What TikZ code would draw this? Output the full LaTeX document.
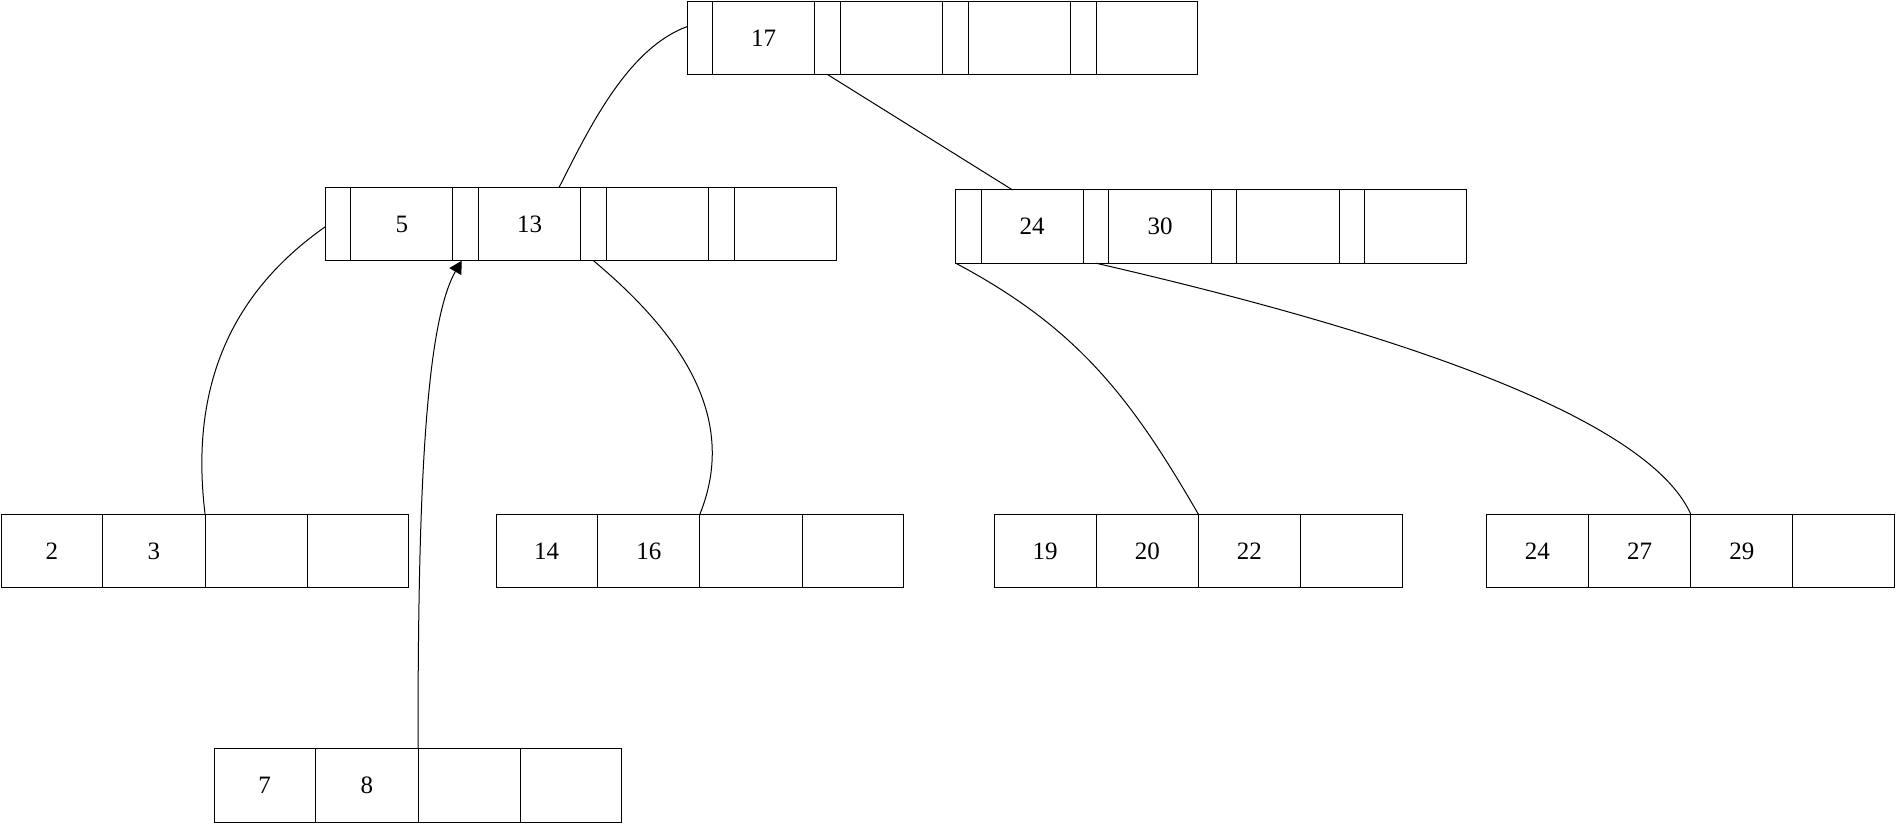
\documentclass[tikz,border=0pt]{standalone}
\usepackage{fontspec}
\setmainfont{Liberation Serif}
\usepackage{tikz}
\usetikzlibrary{shapes.multipart}
\usetikzlibrary{arrows.meta, positioning}

\newcommand{\cellstrut}{\rule[-11.3pt]{0pt}{29.3pt}}
\newcommand{\pcell}{\makebox[9.91pt]{\cellstrut}}
\newcommand{\kcell}[1]{\makebox[40.45pt]{\cellstrut#1}}
\newcommand{\lcell}[1]{\makebox[40.47pt]{\cellstrut#1}}
\newcommand{\innerkeys}[2]{\pcell\nodepart{two}\kcell{#1}\nodepart{three}\pcell\nodepart{four}\kcell{#2}\nodepart{five}\pcell\nodepart{six}\kcell{}\nodepart{seven}\pcell\nodepart{eight}\kcell{}}
\newcommand{\leafkeys}[3]{\lcell{#1}\nodepart{two}\lcell{#2}\nodepart{three}\lcell{#3}\nodepart{four}\lcell{}}

\begin{document}
\begin{tikzpicture}[
    x=0.4839pt, y=-0.4839pt,
    internode/.style = {rectangle split, rectangle split horizontal, rectangle split parts=8, draw=black, thin, inner sep=0pt, outer sep=0pt, anchor=north west},
    leafnode/.style = {rectangle split, rectangle split horizontal, rectangle split parts=4, draw=black, thin, inner sep=0pt, outer sep=0pt, anchor=north west},
    link/.style = {draw=black, thin}
]

\useasboundingbox (0,0) rectangle (1568,681);

\node [internode] (root) at (568,1) {\innerkeys{17}{}};
\node [internode] (left) at (269,155) {\innerkeys{5}{13}};
\node [internode] (right) at (790,157) {\innerkeys{24}{30}};

\node [leafnode] (leaf2) at (1,425) {\leafkeys{2}{3}{}};
\node [leafnode] (leaf14) at (410,425) {\leafkeys{14}{16}{}};
\node [leafnode] (leaf19) at (822,425) {\leafkeys{19}{20}{22}};
\node [leafnode] (leaf24) at (1229,425) {\leafkeys{24}{27}{29}};
\node [leafnode] (leaf7) at (177,619) {\leafkeys{7}{8}{}};

\draw [link] ([xshift=-8.7pt]left.four split north) to[out=63, in=200, looseness=0.8] ([yshift=4.5pt]root.west);
\draw [link] ([xshift=5.13pt]root.two split south) -- ([xshift=12.6pt]right.one split north);

\draw [link] ([yshift=-1pt]left.west) to[out=215, in=97] (leaf2.two split north);
\draw [link] ([xshift=5.13pt]left.four split south) to[out=-40, in=68] (leaf14.two split north);
\draw [link, -{Triangle[length=5pt, width=5.5pt]}] (leaf7.two split north) to[out=90, in=-120, out looseness=1.2, in looseness=0.4] ([xshift=3.5pt]left.two split south);

\draw [link] (right.south west) to[out=-28, in=120] (leaf19.two split north);
\draw [link] ([xshift=5.13pt]right.two split south) to[out=-13, in=114, out looseness=0.8, in looseness=0.5] (leaf24.two split north);

\end{tikzpicture}
\end{document}
